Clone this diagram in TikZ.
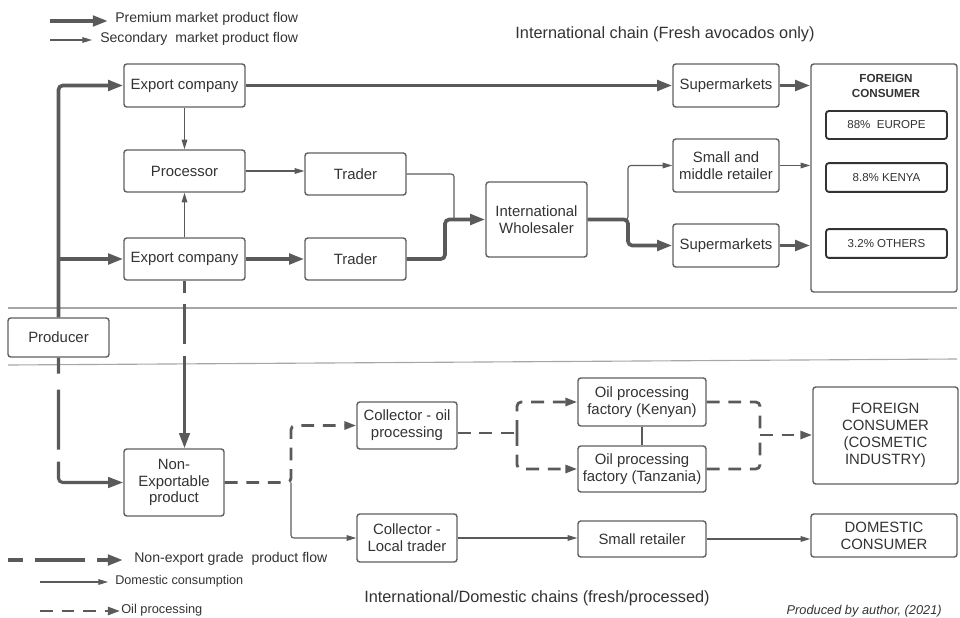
\documentclass[tikz,border=0pt]{standalone}
\usepackage{fontspec}
\setmainfont{Liberation Sans}
\usetikzlibrary{arrows.meta}

\definecolor{flowgray}{HTML}{5A5A5A}
\definecolor{boxgray}{HTML}{606060}
\definecolor{txtgray}{HTML}{333333}

\tikzset{
  box/.style={draw=boxgray, line width=1pt, rounded corners=2pt, fill=white,
    inner sep=0pt, align=center, text=txtgray, font=\fontsize{10.6}{12}\selectfont},
  subbox/.style={box, line width=1.3pt, draw=txtgray, font=\fontsize{8.2}{10}\selectfont},
  premium/.style={draw=flowgray, line width=2.6pt, rounded corners=3pt,
    -{Triangle[length=0.38cm, width=0.26cm]}},
  second/.style={draw=flowgray, line width=0.8pt, rounded corners=2pt,
    -{Triangle[length=0.24cm, width=0.14cm]}},
  nongrade/.style={premium, line width=2.2pt},
  oilflow/.style={draw=flowgray, line width=2pt, rounded corners=3pt,
    dash pattern=on 0.32cm off 0.22cm, -{Triangle[length=0.3cm, width=0.2cm]}},
  divider/.style={draw=gray!70, line width=0.8pt},
  legtext/.style={anchor=west, inner sep=0pt, text=txtgray},
  title/.style={inner sep=0pt, text=txtgray, font=\fontsize{11.6}{14}\selectfont}
}

\begin{document}
\begin{tikzpicture}[x=0.025cm, y=-0.025cm]
        \useasboundingbox (0,0) rectangle (960,618);

        % Separating lines
        \draw[divider] (8,308) -- (957,308);
        \draw[divider] (8,365) -- (957,359);

        % Legend (top)
        \coordinate (lp1) at (50,21);
        \coordinate (lp2) at (108,21);
        \coordinate (ls1) at (50,40);
        \coordinate (ls2) at (92,40);
        \draw[premium] (lp1) -- (lp2);
        \draw[second] (ls1) -- (ls2);
        \node (legprem) at (115,19) [legtext, font=\fontsize{10}{12}\selectfont] {Premium market product flow};
        \node (legsec) at (100,39) [legtext, font=\fontsize{10}{12}\selectfont] {Secondary\ \ market product flow};

        % Titles
        \node (titleint) at (665,34) [title] {International chain (Fresh avocados only)};
        \node (titledom) at (537,598) [title] {International/Domestic chains (fresh/processed)};
        \node (credit) at (942,611) [legtext, anchor=east, font=\fontsize{9.1}{11}\selectfont\itshape] {Produced by author, (2021)};

        % International chain
        \node (exp1) at (184.5,85.5) [box, minimum width=3.025cm, minimum height=1.075cm] {Export company};
        \node (proc) at (184.5,171) [box, minimum width=3.025cm, minimum height=1.05cm] {Processor};
        \node (exp2) at (184.5,259) [box, minimum width=3.025cm, minimum height=1.05cm] {Export company};
        \node (trd1) at (355.5,174) [box, minimum width=2.525cm, minimum height=1.05cm] {Trader};
        \node (trd2) at (355.5,259) [box, minimum width=2.525cm, minimum height=1.05cm] {Trader};
        \node (whol) at (536.5,219.5) [box, minimum width=2.525cm, minimum height=1.875cm] {International\\Wholesaler};
        \node (sup1) at (726,85.5) [box, minimum width=2.65cm, minimum height=1.075cm] {Supermarkets};
        \node (smr) at (726,165.5) [box, minimum width=2.65cm, minimum height=1.325cm] {Small and\\middle retailer};
        \node (sup2) at (726,245.5) [box, minimum width=2.65cm, minimum height=1.075cm] {Supermarkets};

        % Foreign consumer with shares
        \node (fc) at (884,178) [box, minimum width=3.65cm, minimum height=5.7cm] {};
        \node (fctitle) at (886,86) [inner sep=0pt, align=center, text=txtgray, font=\fontsize{8.3}{10}\selectfont\bfseries] {FOREIGN\\CONSUMER};
        \node (eu) at (886.5,125) [subbox, minimum width=3.025cm, minimum height=0.7cm] {88\%\ \ EUROPE};
        \node (ke) at (886.5,177.5) [subbox, minimum width=3.025cm, minimum height=0.72cm] {8.8\% KENYA};
        \node (ot) at (886.5,243.5) [subbox, minimum width=3.025cm, minimum height=0.72cm] {3.2\% OTHERS};

        \node (prod) at (58.5,337.5) [box, minimum width=2.525cm, minimum height=0.975cm] {Producer};

        % Domestic / processed chain
        \node (nonx) at (174,482.5) [box, minimum width=2.5cm, minimum height=1.675cm] {Non-\\Exportable\\product};
        \node (coil) at (407,425.5) [box, minimum width=2.5cm, minimum height=1.175cm] {Collector - oil\\processing};
        \node (cloc) at (407,538) [box, minimum width=2.5cm, minimum height=1.2cm] {Collector -\\Local trader};
        \node (okn) at (642,402) [box, minimum width=3.2cm, minimum height=1.2cm] {Oil processing\\factory (Kenyan)};
        \node (otz) at (642,469) [box, minimum width=3.2cm, minimum height=1.15cm] {Oil processing\\factory (Tanzania)};
        \node (srt) at (642,539) [box, minimum width=3.2cm, minimum height=0.9cm] {Small retailer};
        \node (fcc) at (885.5,435.5) [box, minimum width=3.625cm, minimum height=2.425cm] {FOREIGN\\CONSUMER\\(COSMETIC\\INDUSTRY)};
        \node (dom) at (884,535.5) [box, minimum width=3.65cm, minimum height=1.075cm] {DOMESTIC\\CONSUMER};

        % Bend points
        \coordinate (bend1) at (445,0);
        \coordinate (bend2) at (454,0);
        \coordinate (bend3) at (628,0);
        \coordinate (bend4) at (291,0);
        \coordinate (ojoin) at (517,433);
        \coordinate (ojoin2) at (760,435);

        % Premium flows
        \draw[premium] (prod.north) |- (exp1.west);
        \draw[premium, rounded corners=0pt] (prod.north) |- (exp2.west);
        \draw[premium] (exp1.east) -- (sup1.west);
        \draw[premium] (exp2.east) -- (trd2.west);
        \draw[premium] (trd2.east) -| (bend1 |- whol.west) -- (whol.west);
        \draw[premium] (whol.east) -| (bend3 |- sup2.west) -- (sup2.west);
        \draw[premium] (sup1.east) -- (sup1.east -| fc.west);
        \draw[premium] (sup2.east) -- (sup2.east -| fc.west);

        % Secondary flows
        \draw[second] (exp1.south) -- (proc.north);
        \draw[second] (exp2.north) -- (proc.south);
        \draw[second] (proc.east) -- (proc.east -| trd1.west);
        \draw[second, -] (trd1.east) -| (bend2 |- whol.west);
        \draw[second] (whol.east) -| (bend3 |- smr.west) -- (smr.west);
        \draw[second] (smr.east) -- (smr.east -| fc.west);

        % Non-export grade flows
        \draw[nongrade, dash pattern=on 0.3cm off 0.27cm on 1cm off 0.3cm on 5cm off 1cm] (exp2.south) -- (exp2.south |- nonx.north);
        \draw[nongrade, dash pattern=on 0.4cm off 0.4cm on 1.5cm off 0.3cm on 5cm off 1cm] (prod.south) |- (nonx.west);

        % Oil processing
        \draw[oilflow] (nonx.east) -| (bend4 |- coil.west) -- (coil.west);
        \draw[oilflow, -] (coil.east |- ojoin) -- (ojoin);
        \draw[oilflow] (ojoin) |- (okn.west);
        \draw[oilflow] (ojoin) |- (otz.west);
        \draw[flowgray, line width=0.8pt] (okn.south) -- (otz.north);
        \draw[oilflow, -] (okn.east) -| (ojoin2);
        \draw[oilflow, -] (otz.east) -| (ojoin2);
        \draw[oilflow] (ojoin2) -- (ojoin2 -| fcc.west);

        % Domestic consumption
        \draw[second] (bend4 |- nonx.east) |- (cloc.west);
        \draw[second] (cloc.east) -- (cloc.east -| srt.west);
        \draw[second] (srt.east) -- (srt.east -| dom.west);

        % Legend (bottom)
        \coordinate (ln1) at (8,560);
        \coordinate (ln2) at (123,560);
        \coordinate (ld1) at (40,582);
        \coordinate (ld2) at (108,582);
        \coordinate (lo1) at (40,611);
        \coordinate (lo2) at (120,611);
        \draw[premium, dash pattern=on 0.38cm off 0.3cm on 1.25cm off 0.3cm] (ln1) -- (ln2);
        \draw[second] (ld1) -- (ld2);
        \draw[oilflow, line width=1.6pt, rounded corners=0pt] (lo1) -- (lo2);
        \node (legnon) at (134,559) [legtext, font=\fontsize{10}{12}\selectfont] {Non-export grade\ \ product flow};
        \node (legdom) at (115,581) [legtext, font=\fontsize{9}{11}\selectfont] {Domestic consumption};
        \node (legoil) at (121,610) [legtext, font=\fontsize{9.1}{11}\selectfont] {Oil processing};
\end{tikzpicture}
\end{document}
